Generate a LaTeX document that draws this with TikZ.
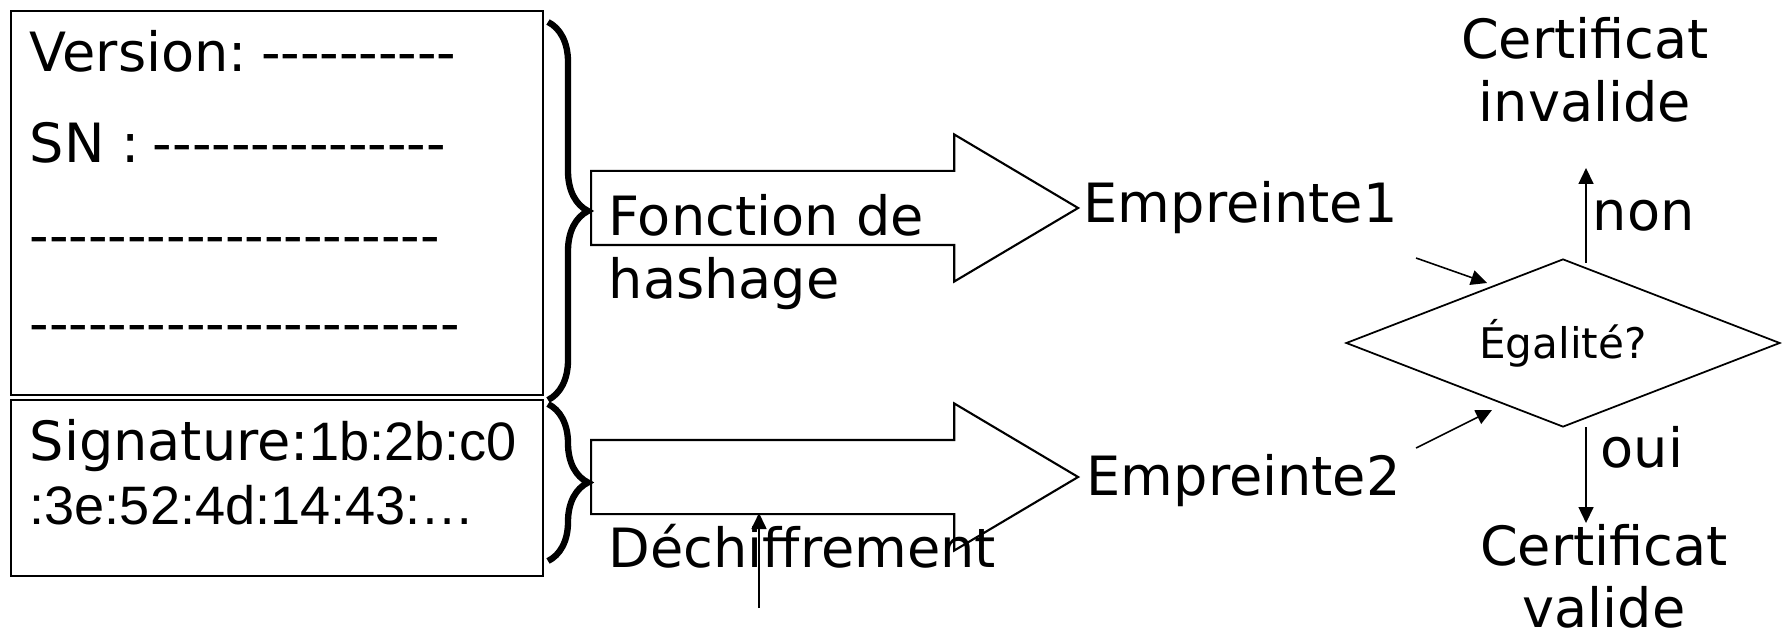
\documentclass[tikz,border=0pt]{standalone}
\usepackage{fontspec}
\setmainfont{DejaVu Sans}
\newfontfamily\hexfont{Liberation Sans}
\usetikzlibrary{shapes.geometric,shapes.arrows,decorations.pathreplacing,arrows.meta}

% a run of plain hyphens, kept apart so they never join into dashes
\newcommand{\dashrun}[1]{\ifnum#1>0 -\kern0pt\expandafter\dashrun\expandafter{\the\numexpr#1-1\relax}\fi}

\begin{document}
\begin{tikzpicture}[
  txt/.style={inner sep=0pt, font=\fontsize{15.4}{18.2}\selectfont},
  field/.style={draw, line width=0.6pt, inner sep=0pt, anchor=north west},
  bigarrow/.style={draw, single arrow, line width=0.6pt, inner xsep=0pt, inner ysep=0.36cm,
    anchor=west, minimum height=4.87cm,
    single arrow head extend=0.365cm, single arrow tip angle=61.4},
  curly/.style={decorate, decoration={brace, amplitude=0.4cm}, line width=1.8pt},
  flow/.style={-{Triangle[length=0.16cm,width=0.15cm]}, line width=0.45pt}
]
\useasboundingbox (0,0) rectangle (17.82,6.35);

% certificate fields
\node[field, minimum width=5.32cm, minimum height=3.84cm] (fields) at (0.10,6.25) {};
\node[field, minimum width=5.32cm, minimum height=1.76cm] (sigbox) at (0.10,2.36) {};
\node[txt, anchor=base west] (version) at (0.29,5.63) {Version:\hspace{0.26em}\dashrun{10}};
\node[txt, anchor=base west] (serial) at (0.29,4.72) {SN :\hspace{0.24em}\dashrun{15}};
\node[txt, anchor=base west] (rest1) at (0.29,3.80) {\dashrun{21}};
\node[txt, anchor=base west] (rest2) at (0.29,2.92) {\dashrun{22}};
\node[txt, anchor=base west] (sig1) at (0.29,1.74) {Signature:{\hexfont 1b:2b:c0}};
\node[txt, anchor=base west] (sig2) at (0.29,1.11) {\hexfont :3e:52:4d:14:43:…};

% braces grouping the fields
\draw[curly] (5.48,6.13) -- (5.48,2.35);
\draw[curly] (5.48,2.31) -- (5.48,0.74);

% hashing and decryption
\node[bigarrow] (hash) at (5.90,4.27) {};
\node[bigarrow] (decrypt) at (5.90,1.58) {};
\node[txt, anchor=base west, align=left] (hashlbl) at (6.08,3.36) {Fonction de\\hashage};
\node[txt, anchor=base west] (decryptlbl) at (6.08,0.68) {Déchiffrement};
\coordinate (keyfoot) at (7.59,0.27);
\coordinate (keyhead) at (7.59,1.22);
\draw[flow] (keyfoot) -- (keyhead);

% digests
\node[txt, anchor=base west] (digest1) at (10.83,4.12) {Empreinte1};
\node[txt, anchor=base west] (digest2) at (10.86,1.40) {Empreinte2};

% comparison
\node[draw, diamond, aspect=2.58, minimum width=4.34cm, minimum height=1.68cm,
  inner sep=0pt, line width=0.5pt, font=\fontsize{12}{14}\selectfont] (equal) at (15.63,2.92) {Égalité?};
\coordinate (d1out) at (14.16,3.77);
\coordinate (d1in) at (14.87,3.52);
\coordinate (d2out) at (14.16,1.87);
\coordinate (d2in) at (14.92,2.25);
\draw[flow] (d1out) -- (d1in);
\draw[flow] (d2out) -- (d2in);

% outcomes
\node[txt, anchor=base, align=center] (invalid) at (15.85,5.13) {Certificat\\invalide};
\node[txt, anchor=base, align=center, font=\fontsize{15.4}{17.4}\selectfont] (valid) at (16.04,0.08) {Certificat\\valide};
\coordinate (nofoot) at (15.86,3.72);
\coordinate (nohead) at (15.86,4.67);
\coordinate (yesfoot) at (15.86,2.08);
\coordinate (yeshead) at (15.86,1.12);
\draw[flow] (nofoot) -- (nohead);
\draw[flow] (yesfoot) -- (yeshead);
\node[txt, anchor=base west] (nolbl) at (15.92,4.04) {non};
\node[txt, anchor=base west] (yeslbl) at (16.00,1.68) {oui};
\end{tikzpicture}
\end{document}
